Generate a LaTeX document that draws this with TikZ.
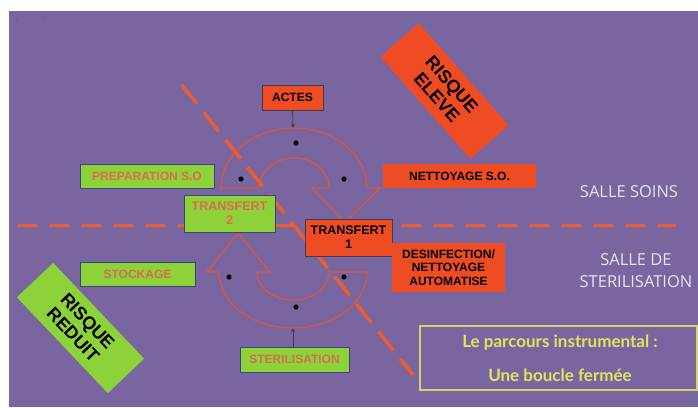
\documentclass[tikz,border=0pt]{standalone}
\usepackage{fontspec}
\setmainfont{Liberation Sans}
\newfontfamily\sallefont{Open Sans}
\newfontfamily\yelfont{Lato}
\usetikzlibrary{arrows.meta}
\definecolor{bgpurple}{RGB}{121,102,160}
\definecolor{boxred}{RGB}{240,76,36}
\definecolor{boxgreen}{RGB}{142,210,58}
\definecolor{greentext}{RGB}{218,108,78}
\definecolor{arcred}{RGB}{222,86,62}
\definecolor{dashred}{RGB}{236,92,46}
\definecolor{yel}{RGB}{228,228,92}
\definecolor{yelborder}{RGB}{212,212,110}
\definecolor{salle}{RGB}{230,228,242}
\definecolor{bdark}{RGB}{60,60,80}
\definecolor{gborder}{RGB}{50,70,120}
\begin{document}
\begin{tikzpicture}[x=1pt,y=-1pt,
  redbox/.style={fill=boxred, draw=bdark, line width=0.6pt, inner sep=0pt, text=black,
    font=\bfseries\fontsize{12}{14}\selectfont, align=center},
  redplain/.style={redbox, draw=none},
  greenbox/.style={fill=boxgreen, draw=gborder, line width=0.6pt, inner sep=0pt, text=greentext,
    font=\bfseries\fontsize{12}{14}\selectfont, align=center},
  riskbox/.style={inner sep=0pt, text=black, font=\bfseries\fontsize{18}{20}\selectfont, align=center},
  band/.style={draw=arcred, line width=1.2pt, line join=miter},
  hdash/.style={draw=dashred, line width=3pt, dash pattern=on 19pt off 13pt},
  ddash/.style={draw=dashred, line width=3.5pt, dash pattern=on 24pt off 11pt},
  blackdot/.style={fill=black},
  stem/.style={draw=bdark, line width=0.8pt, -{Stealth[length=4pt,width=4pt]}},
  sallelabel/.style={text=salle, font=\sallefont\fontsize{16.5}{22}\selectfont, align=center, inner sep=0pt},
  yeltext/.style={text=yel, font=\yelfont\bfseries\fontsize{17}{20}\selectfont, inner sep=0pt}
]
\useasboundingbox (0,0) rectangle (698,407);
\fill[white] (0,0) rectangle (698,407);
\fill[bgpurple] (9,11) rectangle (698,407);
\fill[black!60] (17,19) circle[radius=1];
\fill[black!60] (45,17) circle[radius=1];

% horizontal boundary
\coordinate (hl) at (18,225);
\coordinate (hr) at (676,225);
\draw[hdash] (hl) -- (hr);

% upper band (ACTES -> NETTOYAGE)
\draw[band] (221,188) -- (259,188)
  -- plot[domain=180:360, samples=61] ({294+35*cos(\x)},{188+30*sin(\x)})
  -- (312,188) -- (345,222) -- (380,188) -- (367,188)
  -- plot[domain=0:-180, samples=91] ({294+73*cos(\x)},{188+60*sin(\x)}) -- cycle;
% lower band (STERILISATION -> STOCKAGE)
\draw[band] (367,272) -- (329,272)
  -- plot[domain=0:180, samples=61] ({293+36*cos(\x)},{272+28*sin(\x)})
  -- (270,272) -- (238,233) -- (207,272) -- (219,272)
  -- plot[domain=180:0, samples=91] ({293+74*cos(\x)},{272+56*sin(\x)}) -- cycle;

\fill[blackdot] (241,179) circle[radius=2.6];
\fill[blackdot] (296,143) circle[radius=2.6];
\fill[blackdot] (344,179) circle[radius=2.6];
\fill[blackdot] (229,277) circle[radius=2.6];
\fill[blackdot] (296,307) circle[radius=2.6];
\fill[blackdot] (344,277) circle[radius=2.6];

% diagonal boundary
\coordinate (dl) at (182,85);
\coordinate (dr) at (413,375);
\draw[ddash] (dl) -- (dr);

% boxes
\node[redbox, minimum width=61pt, minimum height=25pt] (actes) at (292.5,97.5) {ACTES};
\node[redplain, minimum width=153pt, minimum height=24pt] (nett) at (459.5,176) {NETTOYAGE S.O.};
\node[greenbox, minimum width=134pt, minimum height=24pt] (prep) at (147,176) {PREPARATION S.O};
\node[greenbox, minimum width=91pt, minimum height=37pt, font=\bfseries\fontsize{12.5}{14}\selectfont] (t2) at (229.5,213.5) {TRANSFERT\\2};
\node[redbox, minimum width=87pt, minimum height=37pt, font=\bfseries\fontsize{12.5}{14}\selectfont] (t1) at (348.5,237.5) {TRANSFERT\\1};
\node[redplain, minimum width=113pt, minimum height=49pt, font=\bfseries\fontsize{12}{13.5}\selectfont] (desinf) at (448.5,267.5) {DESINFECTION/\\NETTOYAGE\\AUTOMATISE};
\node[greenbox, minimum width=115pt, minimum height=24pt] (stock) at (137.5,274) {STOCKAGE};
\node[greenbox, minimum width=109pt, minimum height=25pt] (steril) at (294.5,359.5) {STERILISATION};

\node[riskbox, fill=boxred, minimum width=136pt, minimum height=51pt, rotate=-48.6] (rel) at (444.5,91) {RISQUE\\ELEVE};
\node[riskbox, fill=boxgreen, minimum width=132pt, minimum height=50pt, rotate=-46.5] (rred) at (80.5,328) {RISQUE\\REDUIT};

% stems
\coordinate (topc) at (293,128);
\coordinate (botc) at (293,328);
\draw[stem] (actes.south) -- (topc);
\draw[stem] (steril.north -| botc) -- (botc);

% labels
\node[sallelabel] (soins) at (629,192) {SALLE SOINS};
\node[sallelabel] (sster) at (636,271) {SALLE DE\\STERILISATION};

\node[draw=yelborder, line width=1.2pt, minimum width=277pt, minimum height=64pt, inner sep=0pt] (yb) at (558.5,358) {};
\node[yeltext] (y1) at (560,343) {Le parcours instrumental :};
\node[yeltext] (y2) at (560,375) {Une boucle fermée};
\end{tikzpicture}
\end{document}
